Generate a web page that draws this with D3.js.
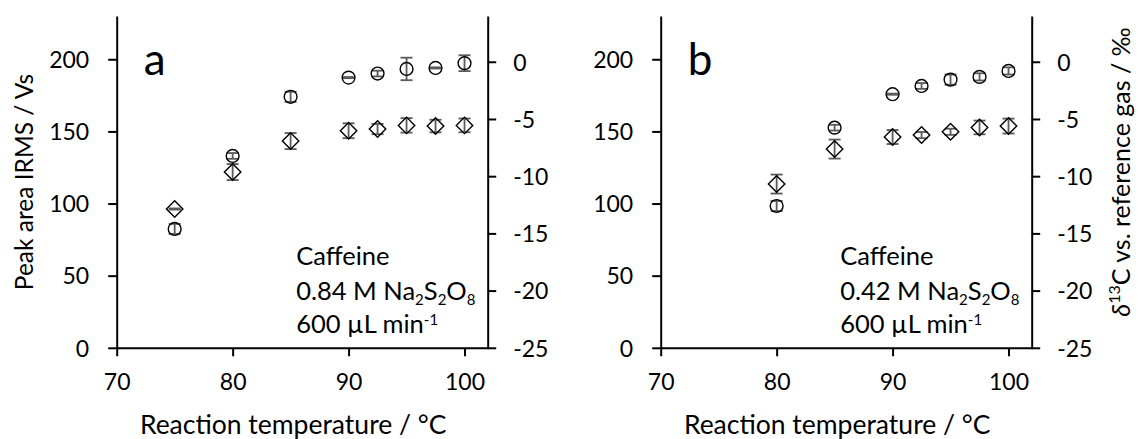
<!DOCTYPE html>
<html><head><meta charset="utf-8">
<script src="https://cdn.jsdelivr.net/npm/d3@7"></script>
<style>
body{margin:0;background:#fff}
svg{display:block}
text{font-family:Lato, "Open Sans", sans-serif; fill:#000}
</style>
</head><body>
<svg id="c" width="1138" height="439"></svg>
<script>
// ---- data ----
const temperaturesA = [75, 80, 85, 90, 92.5, 95, 97.5, 100];
const peakAreaA     = [82.4, 133, 174, 187.3, 190.1, 193.3, 194, 197.3];
const peakAreaErrA  = [3.5, 2, 3.5, 0.4, 2, 7.8, 0.4, 5.5];
const delta13CA     = [-12.87, -9.64, -6.93, -6.03, -5.88, -5.56, -5.62, -5.56];
const delta13CErrA  = [0.05, 0.7, 0.7, 0.65, 0.45, 0.63, 0.55, 0.6];

const temperaturesB = [80, 85, 90, 92.5, 95, 97.5, 100];
const peakAreaB     = [98.3, 152.6, 175.8, 181.5, 185.9, 187.8, 191.9];
const peakAreaErrB  = [3.5, 2, 0.4, 2, 3.5, 2.5, 2.5];
const delta13CB     = [-10.69, -7.63, -6.58, -6.41, -6.12, -5.74, -5.62];
const delta13CErrB  = [0.83, 0.83, 0.61, 0.27, 0.27, 0.6, 0.65];

const xTicks = [70, 80, 90, 100];
const leftTicks = [0, 50, 100, 150, 200];
const rightTicks = [0, -5, -10, -15, -20, -25];
const panelLabels = ["a", "b"];
const concentrations = ["0.84", "0.42"];

const svg = d3.select("#c");
const FS = 23;       // tick labels
const FA = 25.5;     // annotations
const FX = 26.5;     // x title
const errColor = "#5a5a5a";

function panel(opt) {
  const g = svg.append("g");
  const x = d3.scaleLinear().domain([70, 102]).range([opt.x0, opt.x1]);
  const yL = d3.scaleLinear().domain([0, 230]).range([347.8, 16]);
  const yR = d3.scaleLinear().domain([-25, 4]).range([347.8, 16]);

  // axes
  const ax = g.append("g").attr("transform", `translate(0,${yL(0)})`)
    .call(d3.axisBottom(x).tickValues(xTicks).tickSize(8.5).tickSizeOuter(0).tickFormat(d3.format("d")));
  ax.selectAll("text").attr("y", 42).attr("dy", 0);
  const al = g.append("g").attr("transform", `translate(${opt.x0},0)`)
    .call(d3.axisLeft(yL).tickValues(leftTicks).tickSize(8.5).tickSizeOuter(0).tickPadding(19));
  al.selectAll("text").attr("dy", "0.36em");
  const ar = g.append("g").attr("transform", `translate(${opt.x1},0)`)
    .call(d3.axisRight(yR).tickValues(rightTicks).tickSize(8.5).tickSizeOuter(0).tickPadding(17)
      .tickFormat(d => d < 0 ? "-" + Math.abs(d) : String(d)));
  ar.selectAll("text").attr("dy", "0.36em");
  [ax, al, ar].forEach(a => {
    a.selectAll("path,line").attr("stroke", "#000").attr("stroke-width", 2);
    a.selectAll("text").style("font-size", FS + "px").style("font-family", "Lato").attr("fill", "#000");
  });

  // error bars
  function errBars(xs, ys, es, y) {
    const e = g.append("g").attr("stroke", errColor).attr("stroke-width", 1.8);
    xs.forEach((t, i) => {
      const cx = x(t), top = y(ys[i] + es[i]), bot = y(ys[i] - es[i]);
      e.append("line").attr("x1", cx).attr("x2", cx).attr("y1", top).attr("y2", bot);
      e.append("line").attr("x1", cx - 6).attr("x2", cx + 6).attr("y1", top).attr("y2", top);
      e.append("line").attr("x1", cx - 6).attr("x2", cx + 6).attr("y1", bot).attr("y2", bot);
    });
  }
  errBars(opt.t, opt.pa, opt.paErr, yL);
  errBars(opt.t, opt.d, opt.dErr, yR);

  // markers
  g.append("g").selectAll("circle").data(opt.t).join("circle")
    .attr("cx", d => x(d)).attr("cy", (d, i) => yL(opt.pa[i])).attr("r", 6.4)
    .attr("fill", "none").attr("stroke", "#000").attr("stroke-width", 1.4);
  const diamond = d3.symbol().type(d3.symbolSquare).size(136);
  g.append("g").selectAll("path").data(opt.t).join("path")
    .attr("d", diamond)
    .attr("transform", (d, i) => `translate(${x(d)},${yR(opt.d[i])}) rotate(45)`)
    .attr("fill", "none").attr("stroke", "#000").attr("stroke-width", 1.4);

  // panel label
  g.append("text").attr("x", opt.x0 + 27).attr("y", 75).style("font-size", "44px").text(opt.label);

  // annotation
  const tx = opt.x0 + 179.5;
  g.append("text").attr("x", tx).attr("y", 265).style("font-size", FA + "px").text("Caffeine");
  const t2 = g.append("text").attr("x", tx).attr("y", 300).style("font-size", FA + "px");
  t2.append("tspan").text(opt.conc + " M Na");
  t2.append("tspan").attr("dy", 5).style("font-size", "15px").text("2");
  t2.append("tspan").attr("dy", -5).text("S");
  t2.append("tspan").attr("dy", 5).style("font-size", "15px").text("2");
  t2.append("tspan").attr("dy", -5).text("O");
  t2.append("tspan").attr("dy", 5).style("font-size", "15px").text("8");
  const t3 = g.append("text").attr("x", tx).attr("y", 333).style("font-size", FA + "px");
  t3.append("tspan").text("600 µL min");
  t3.append("tspan").attr("dy", -8.5).style("font-size", "15px").text("-1");

  // x title
  g.append("text").attr("x", (opt.x0 + opt.x1) / 2 - 9).attr("y", 434).attr("text-anchor", "middle")
    .style("font-size", FX + "px").text("Reaction temperature / °C");
}

panel({x0: 116.7, x1: 487.7, label: panelLabels[0], conc: concentrations[0],
  t: temperaturesA, pa: peakAreaA, paErr: peakAreaErrA, d: delta13CA, dErr: delta13CErrA});
panel({x0: 660.7, x1: 1031.7, label: panelLabels[1], conc: concentrations[1],
  t: temperaturesB, pa: peakAreaB, paErr: peakAreaErrB, d: delta13CB, dErr: delta13CErrB});

// y titles
svg.append("text").attr("transform", "translate(33,182) rotate(-90)").attr("text-anchor", "middle")
  .style("font-size", "24.5px").text("Peak area IRMS / Vs");
const rt = svg.append("text").attr("transform", "translate(1130,172) rotate(-90)").attr("text-anchor", "middle")
  .style("font-size", "25px");
rt.append("tspan").style("font-style", "italic").text("δ");
rt.append("tspan").attr("dy", -10).style("font-size", "16px").text("13");
rt.append("tspan").attr("dy", 10).text("C vs. reference gas / ‰");
</script>
</body></html>
